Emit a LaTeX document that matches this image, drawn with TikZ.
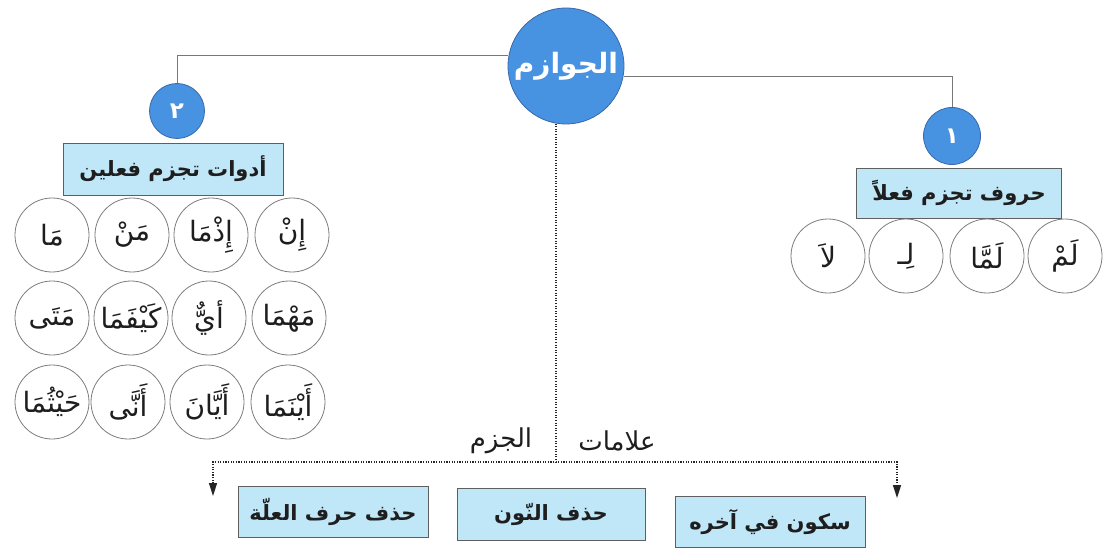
\documentclass[tikz,border=0pt]{standalone}
\usepackage{fontspec}
\newfontfamily\arabicfont[Script=Arabic]{DejaVu Sans}
\TeXXeTstate=1
\usetikzlibrary{arrows.meta}
\definecolor{blueC}{RGB}{72,146,226}
\definecolor{blueB}{RGB}{55,105,170}
\definecolor{boxF}{RGB}{192,231,248}
\definecolor{boxB}{RGB}{95,95,95}
\definecolor{ringB}{RGB}{125,125,125}
\definecolor{lineC}{RGB}{120,120,120}
\definecolor{txt}{RGB}{30,30,30}
\newcommand{\artx}[1]{\beginR #1\endR}
\tikzset{
  bluecirc/.style={circle,fill=blueC,draw=blueB,line width=0.8pt,inner sep=0pt,text=white,font=\arabicfont\bfseries\fontsize{23pt}{26pt}\selectfont},
  abox/.style={rectangle,fill=boxF,draw=boxB,line width=0.9pt,inner sep=0pt,text=txt,font=\arabicfont\bfseries\fontsize{21pt}{24pt}\selectfont},
  word/.style={circle,draw=ringB,fill=white,line width=0.8pt,minimum size=74pt,inner sep=0pt,text=txt,font=\arabicfont\fontsize{28pt}{32pt}\selectfont},
  lbl/.style={inner sep=0pt,text=txt,font=\arabicfont\fontsize{26pt}{29pt}\selectfont},
  thin/.style={draw=lineC,line width=0.8pt},
  dotline/.style={draw=black!85,line width=1.5pt,dash pattern=on 1.1pt off 1.5pt}
}
\begin{document}
\begin{tikzpicture}[x=1pt,y=-1pt]
\useasboundingbox (0,0) rectangle (1107,556);
% main circle
\node[bluecirc,minimum size=116pt,font=\arabicfont\bfseries\fontsize{28pt}{31pt}\selectfont] (main) at (566,66) {\artx{الجوازم}};
% numbered circles
\node[bluecirc,minimum size=55pt] (c2) at (177,111) {\artx{٢}};
\node[bluecirc,minimum size=57pt] (c1) at (952,136) {\artx{١}};
% boxes
\node[abox,minimum width=220pt,minimum height=52pt] (b2) at (173,169) {\artx{أدوات تجزم فعلين}};
\node[abox,minimum width=205pt,minimum height=50pt] (b1) at (959,193) {\artx{حروف تجزم فعلاً}};
% connectors
\draw[thin] (c2.north) |- (main.170);
\draw[thin] (main.-10) -| (c1.north);
% left grid
\node[word] (w11) at (292,235) {\artx{إِنْ}};
\node[word] (w12) at (211,235) {\artx{إِذْمَا}};
\node[word] (w13) at (132,235) {\artx{مَنْ}};
\node[word] (w14) at (52,235) {\artx{مَا}};
\node[word] (w21) at (289,318) {\artx{مَهْمَا}};
\node[word] (w22) at (209,318) {\artx{أيٌّ}};
\node[word] (w23) at (131,318) {\artx{كَيْفَمَا}};
\node[word] (w24) at (52,318) {\artx{مَتَى}};
\node[word] (w31) at (288,402) {\artx{أَيْنَمَا}};
\node[word] (w32) at (207,402) {\artx{أَيَّانَ}};
\node[word] (w33) at (128,402) {\artx{أَنَّى}};
\node[word] (w34) at (52,402) {\artx{حَيْثُمَا}};
% right row
\node[word] (r1) at (1065,256) {\artx{لَمْ}};
\node[word] (r2) at (987,256) {\artx{لَمَّا}};
\node[word] (r3) at (906,256) {\artx{لِـ}};
\node[word] (r4) at (828,256) {\artx{لاَ}};
% bottom
\coordinate (hl) at (213,462);
\coordinate (hr) at (897,462);
\coordinate (al) at (213,496);
\coordinate (ar) at (897,498);
\draw[dotline] (main.260) -- (main.260 |- hl);
\draw[dotline,{Triangle[width=8pt,length=13pt]}-{Triangle[width=8pt,length=13pt]}] (al) -- (hl) -- (hr) -- (ar);
\node[lbl] (t1) at (617,441) {\artx{علامات}};
\node[lbl] (t2) at (501,441) {\artx{الجزم}};
\node[abox,minimum width=190pt,minimum height=51pt] (s1) at (770,522) {\artx{سكون في آخره}};
\node[abox,minimum width=188pt,minimum height=52pt] (s2) at (551,514) {\artx{حذف النّون}};
\node[abox,minimum width=190pt,minimum height=51pt] (s3) at (333,512) {\artx{حذف حرف العلّة}};
\end{tikzpicture}
\end{document}
